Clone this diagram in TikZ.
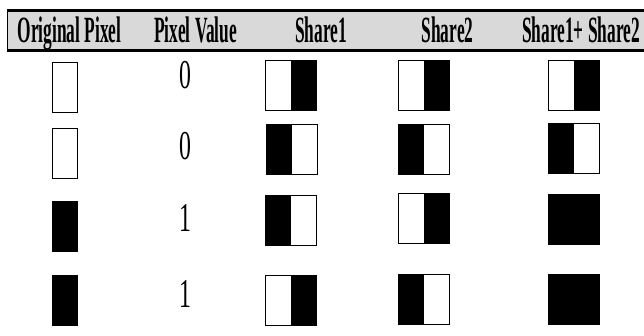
\documentclass[tikz,border=0pt]{standalone}
\usepackage{fontspec}
\setmainfont{Liberation Serif}
\newfontfamily\hdrfont[FakeStretch=0.47]{Liberation Serif}
\newfontfamily\digfont[FakeStretch=0.58]{Liberation Serif}
\tikzset{
  cell/.style={draw=black, line width=0.9pt, minimum width=51pt, minimum height=50pt, inner sep=0pt, outer sep=0pt},
  pix/.style={draw=black, line width=0.9pt, minimum width=25pt, minimum height=50pt, inner sep=0pt, outer sep=0pt},
  lb/.style={path picture={\fill[black] (path picture bounding box.south west) rectangle (path picture bounding box.north);}},
  rb/.style={path picture={\fill[black] (path picture bounding box.south) rectangle (path picture bounding box.north east);}},
  fb/.style={fill=black},
  hdr/.style={anchor=base, inner sep=0pt, font=\hdrfont\bfseries\fontsize{37}{37}\selectfont},
  dig/.style={anchor=base, inner sep=0pt, font=\digfont\fontsize{41}{41}\selectfont},
  rule/.style={line width=3pt, black}
}
\begin{document}
\begin{tikzpicture}[x=1pt,y=-1pt]
\useasboundingbox (0,0) rectangle (644,336);
\fill[white] (0,0) rectangle (644,336);
% header band
\fill[black!15] (7,11) rectangle (644,50);
\draw[line width=0.6pt] (7,11) -- (7,50);
\draw[rule] (7,10.5) -- (644,10.5);
\draw[rule] (7,50.5) -- (644,50.5);
\node[hdr] (h1) at (69.5,43) {Original Pixel};
\node[hdr] (h2) at (195.5,43) {Pixel Value};
\node[hdr] (h3) at (321,43) {Share1};
\node[hdr] (h4) at (447.5,43) {Share2};
\node[hdr] (h5) at (581,43) {Share1+ Share2};
% row 1
\node[pix] (o1) at (64.5,87) {};
\node[dig] (v1) at (185,89) {0};
\node[cell,rb] (a1) at (291,85.5) {};
\node[cell,rb] (b1) at (423.5,85.5) {};
\node[cell,rb] (c1) at (573.5,85.5) {};
% row 2
\node[pix] (o2) at (64.5,153.5) {};
\node[dig] (v2) at (185,160) {0};
\node[cell,lb] (a2) at (292,149) {};
\node[cell,lb] (b2) at (423.5,149.3) {};
\node[cell,lb] (c2) at (573.5,148.5) {};
% row 3
\node[pix,fb] (o3) at (64.8,226.5) {};
\node[dig] (v3) at (185,232) {1};
\node[cell,lb] (a3) at (291,220.5) {};
\node[cell,rb] (b3) at (423.5,218.3) {};
\node[cell,fb] (c3) at (573.5,219) {};
% row 4
\node[pix,fb] (o4) at (64.8,300) {};
\node[dig] (v4) at (185,307) {1};
\node[cell,rb] (a4) at (290.5,300.5) {};
\node[cell,lb] (b4) at (423.5,299) {};
\node[cell,fb] (c4) at (573.5,299) {};
\end{tikzpicture}
\end{document}
